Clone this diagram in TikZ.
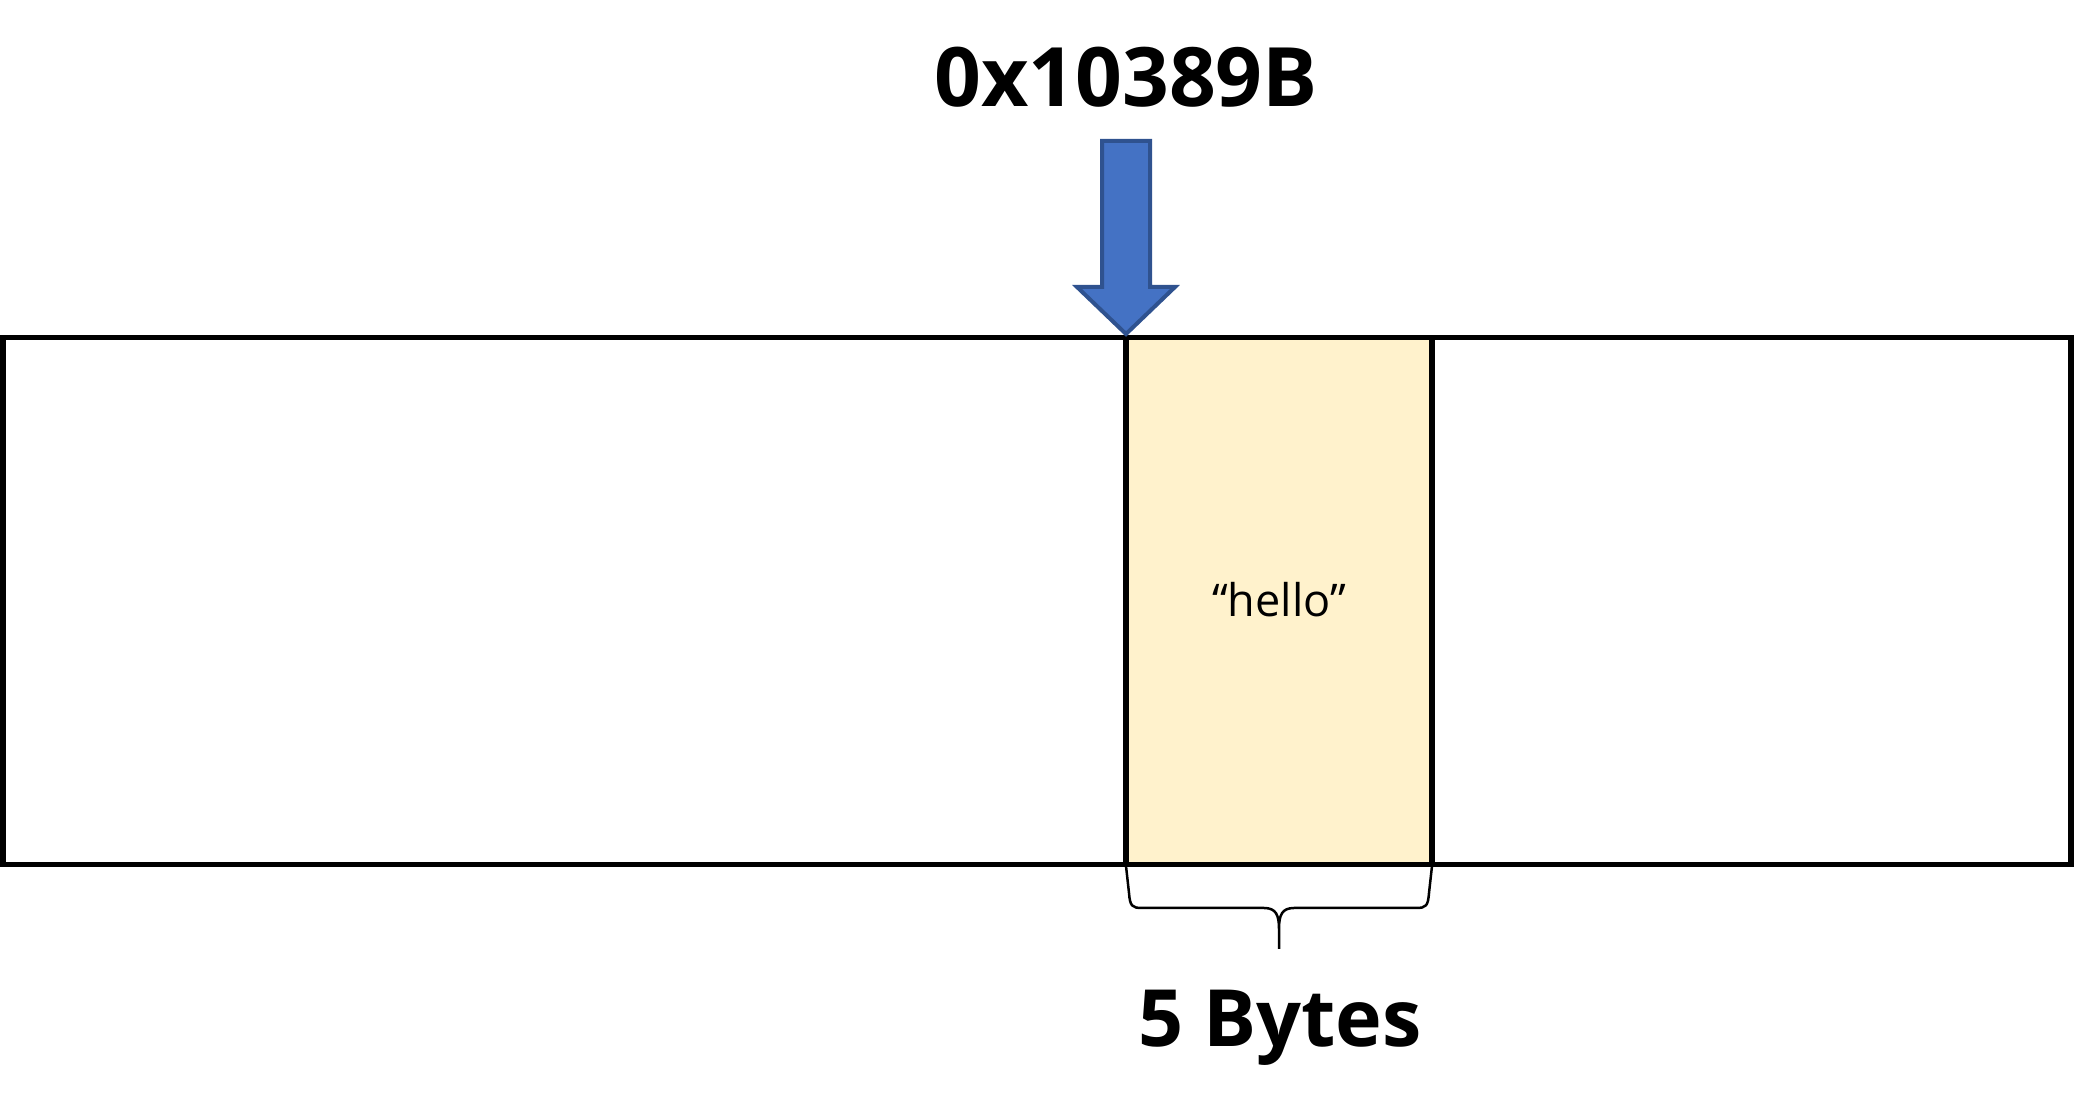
\documentclass[tikz,border=0pt]{standalone}
\usepackage{fontspec}
\setmainfont{Open Sans}
\definecolor{arrowblue}{HTML}{4472C4}
\definecolor{arrowedge}{HTML}{2F528F}
\definecolor{cellyellow}{HTML}{FFF2CC}
\begin{document}
\begin{tikzpicture}[x=1pt,y=1pt,line join=miter]
            \useasboundingbox (0,0) rectangle (2074,1115);
            % memory strip
            \coordinate (M1) at (2.8,250.5);
            \coordinate (M2) at (2071.2,777.5);
            % string cell
            \coordinate (S1) at (1126,250.5);
            \coordinate (S2) at (1432,777.5);
            \fill[cellyellow] (S1) rectangle (S2);
            \draw[line width=5.5] (M1) rectangle (M2);
            \draw[line width=5.5] (S1|-M2) -- (S1)
            (S2) -- (S2|-M1);
            \node[font=\fontsize{45}{45}\selectfont] (str) at (1279,515) {“hello”};
            % address arrow
            \coordinate (P) at (1126,781);
            \draw[arrowedge,fill=arrowblue,line width=4] (P) -- (1077,828) -- (1102,828) -- (1102,974)
            -- (1150,974) -- (1150,828) -- (1175,828) -- cycle;
            \node[font=\bfseries\fontsize{82}{82}\selectfont,anchor=base] (addr) at (1126,1008) {0x10389B};
            % size brace
            \coordinate (B1) at (1126,249);
            \coordinate (B2) at (1432,249);
            \coordinate (B) at (1279,166);
            \draw[line width=2.5] (B1) -- (1129,222) .. controls (1130,209) and (1132,207) .. (1142,207)
            -- (1264,207) .. controls (1276,207) and (1279,200) .. (1279,186) -- (B)
            (B2) -- (1429,222) .. controls (1428,209) and (1426,207) .. (1416,207)
            -- (1294,207) .. controls (1282,207) and (1279,200) .. (1279,186);
            \node[font=\bfseries\fontsize{79}{79}\selectfont,anchor=base] (size) at (1280,68) {5 Bytes};
\end{tikzpicture}
\end{document}
